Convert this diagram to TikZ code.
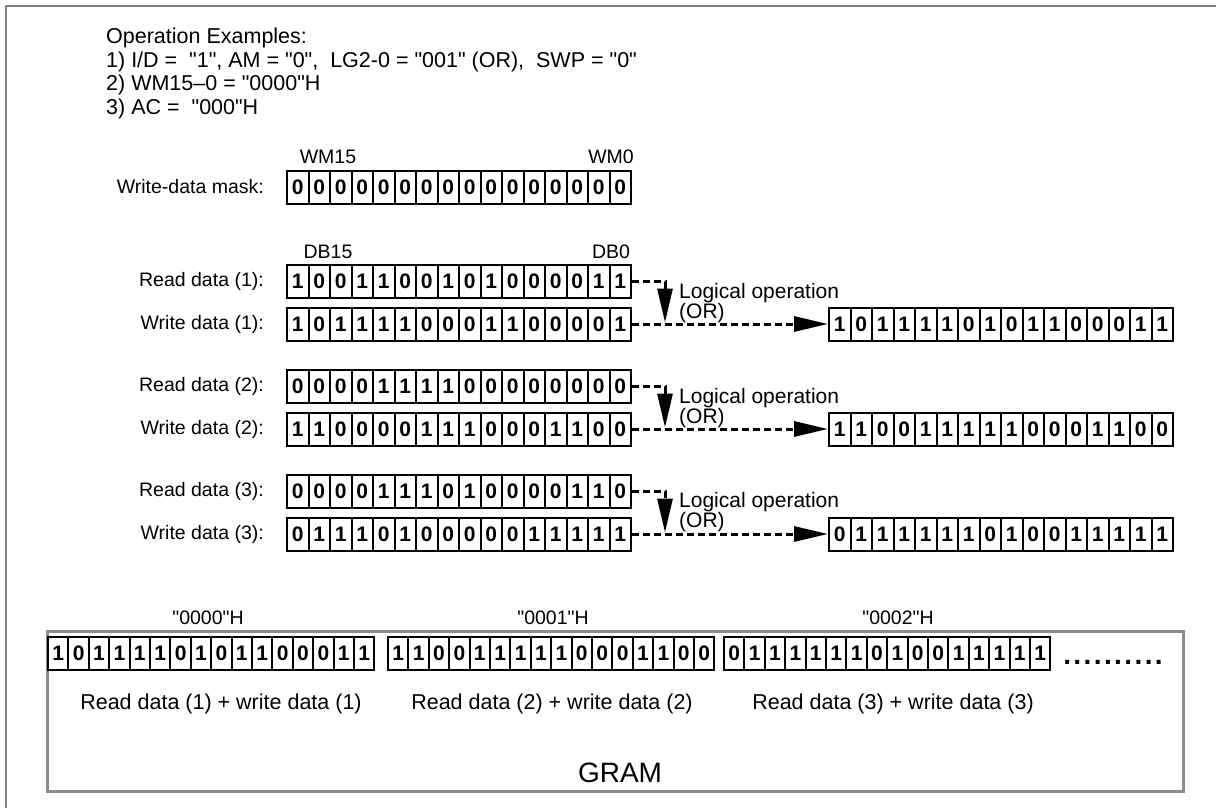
\documentclass[tikz,border=0pt]{standalone}
\usepackage{fontspec}
\setmainfont{Liberation Sans}[Ligatures=TeXOff]
\usetikzlibrary{arrows.meta,calc}
\newcommand\bitreg[5]{%
  \foreach \b [count=\i from 0] in {#5} {
    \node[bitcell=#4pt] (#1-\i) at ({#2+(\i+0.5)*#4},#3) {\b};
  }%
}
\tikzset{
  bitcell/.style={draw, line width=2pt, minimum width=#1, minimum height=33pt,
    inner sep=0pt, font=\fontsize{21}{21}\selectfont\bfseries},
  lbl/.style={font=\fontsize{19.5}{23}\selectfont, inner sep=0pt},
  head/.style={lbl, font=\fontsize{21.5}{24}\selectfont, anchor=base west},
  oplbl/.style={lbl, font=\fontsize{21}{24}\selectfont, anchor=base west},
  rowlbl/.style={lbl, anchor=east},
  dashline/.style={line width=3pt, dash pattern=on 7pt off 4pt},
  bigtip/.style={-{Triangle[length=34pt,width=15pt]}},
  framegray/.style={draw=black!50, line width=1.5pt},
  gramgray/.style={draw=black!45, line width=3pt},
}
\begin{document}
\begin{tikzpicture}[x=1pt,y=-1pt]
\useasboundingbox (0,0) rectangle (1216,808);
% outer frame (top and left visible)
\draw[framegray] (6,808) -- (6,6) -- (1216,6);
% heading text
\node[head] (h0) at (106,44) {Operation Examples:};
\node[head] (h1) at (106,67) {1) I/D = ~"1", AM = "0", ~LG2-0 = "001" (OR), ~SWP = "0"};
\node[head] (h2) at (106,90) {2) WM15–0 = "0000"H};
\node[head] (h3) at (106,114) {3) AC = ~"000"H};
% mask register
\node[lbl] (wm15) at (328,157) {WM15};
\node[lbl] (wm0) at (611,157) {WM0};
\node[rowlbl] (lmask) at (264,187) {Write-data mask:};
\bitreg{mask}{287}{187}{21.5}{0,0,0,0,0,0,0,0,0,0,0,0,0,0,0,0}
\node[lbl] (db15) at (328,252) {DB15};
\node[lbl] (db0) at (611,252) {DB0};
% row 1
\node[rowlbl] (lr1) at (264,281.5) {Read data (1):};
\node[rowlbl] (lw1) at (264,324) {Write data (1):};
\bitreg{rdA}{287}{281.5}{21.5}{1,0,0,1,1,0,0,1,0,1,0,0,0,0,1,1}
\bitreg{wrA}{287}{324}{21.5}{1,0,1,1,1,1,0,0,0,1,1,0,0,0,0,1}
\bitreg{resA}{829}{324}{21.5}{1,0,1,1,1,1,0,1,0,1,1,0,0,0,1,1}
% row 2
\node[rowlbl] (lr2) at (264,386.5) {Read data (2):};
\node[rowlbl] (lw2) at (264,429) {Write data (2):};
\bitreg{rdB}{287}{386.5}{21.5}{0,0,0,0,1,1,1,1,0,0,0,0,0,0,0,0}
\bitreg{wrB}{287}{429}{21.5}{1,1,0,0,0,0,1,1,1,0,0,0,1,1,0,0}
\bitreg{resB}{829}{429}{21.5}{1,1,0,0,1,1,1,1,1,0,0,0,1,1,0,0}
% row 3
\node[rowlbl] (lr3) at (264,491) {Read data (3):};
\node[rowlbl] (lw3) at (264,534) {Write data (3):};
\bitreg{rdC}{287}{491}{21.5}{0,0,0,0,1,1,1,0,1,0,0,0,0,1,1,0}
\bitreg{wrC}{287}{534}{21.5}{0,1,1,1,0,1,0,0,0,0,0,1,1,1,1,1}
\bitreg{resC}{829}{534}{21.5}{0,1,1,1,1,1,1,0,1,0,0,1,1,1,1,1}
% connectors and labels
\foreach \r in {A,B,C} {
  \draw[dashline, bigtip] (rd\r-15.east) -| ($(wr\r-15.east)+(33,-1.5)$);
  \draw[dashline, bigtip] (wr\r-15.east) -- (res\r-0.west);
}
\node[oplbl] (opA) at (679,298) {Logical operation};
\node[oplbl] (orA) at (679,318) {(OR)};
\node[oplbl] (opB) at (679,403) {Logical operation};
\node[oplbl] (orB) at (679,423) {(OR)};
\node[oplbl] (opC) at (679,507.5) {Logical operation};
\node[oplbl] (orC) at (679,527.5) {(OR)};
% GRAM
\draw[gramgray] (47,631) rectangle (1183,791);
\node[lbl] (ad0) at (208,618) {"0000"H};
\node[lbl] (ad1) at (553,618) {"0001"H};
\node[lbl] (ad2) at (898,618) {"0002"H};
\bitreg{gA}{48}{653.5}{20.4}{1,0,1,1,1,1,0,1,0,1,1,0,0,0,1,1}
\bitreg{gB}{388}{653.5}{20.4}{1,1,0,0,1,1,1,1,1,0,0,0,1,1,0,0}
\bitreg{gC}{724}{653.5}{20.4}{0,1,1,1,1,1,1,0,1,0,0,1,1,1,1,1}
\node[lbl, font=\fontsize{28}{28}\selectfont\bfseries, anchor=base] (dots) at (1113,664) {.\kern2.4pt.\kern2.4pt.\kern2.4pt.\kern2.4pt.\kern2.4pt.\kern2.4pt.\kern2.4pt.\kern2.4pt.\kern2.4pt.};
\node[lbl, font=\fontsize{21.5}{24}\selectfont] (sA) at (221,704) {Read data (1) + write data (1)};
\node[lbl, font=\fontsize{21.5}{24}\selectfont] (sB) at (552,704) {Read data (2) + write data (2)};
\node[lbl, font=\fontsize{21.5}{24}\selectfont] (sC) at (893,704) {Read data (3) + write data (3)};
\node[lbl, font=\fontsize{28}{28}\selectfont] (gram) at (620,773) {GRAM};
\end{tikzpicture}
\end{document}
